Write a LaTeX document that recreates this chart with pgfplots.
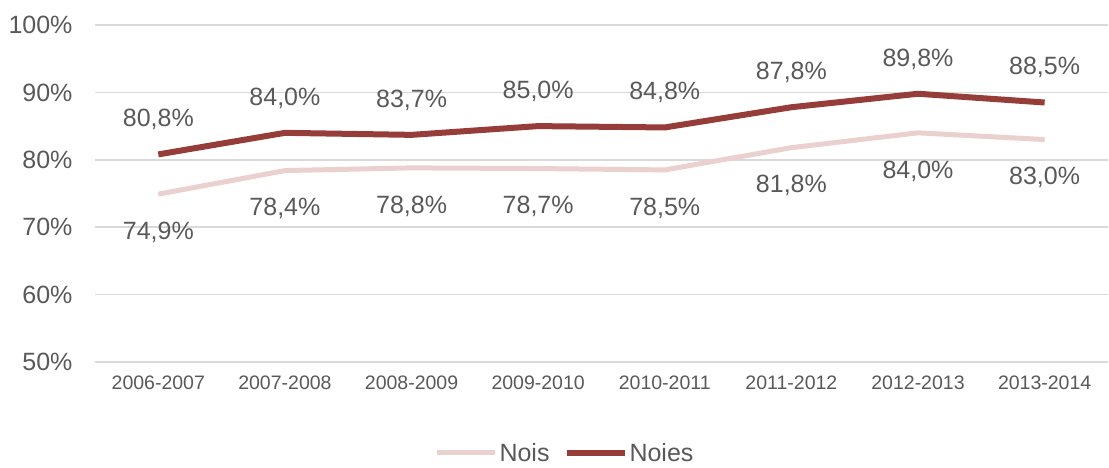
\documentclass[border=0pt]{standalone}
\usepackage{pgfplots}
\pgfplotsset{compat=1.18}
\usepackage{fontspec}
\setmainfont{Liberation Sans}
\definecolor{noies}{RGB}{150,60,57}
\definecolor{nois}{RGB}{235,208,208}
\definecolor{txt}{RGB}{89,89,89}
\definecolor{gridc}{RGB}{217,217,217}

\begin{document}
\begin{tikzpicture}
  \useasboundingbox (0,0) rectangle (1109bp,468bp);
  \begin{axis}[
    at={(95bp,106bp)}, anchor=south west,
    scale only axis, width=1013bp, height=337bp,
    xmin=-0.5, xmax=7.5, ymin=50, ymax=100,
    xtick={0,...,7},
    xticklabels={2006-2007,2007-2008,2008-2009,2009-2010,2010-2011,2011-2012,2012-2013,2013-2014},
    ytick={50,60,...,100},
    yticklabel={\pgfmathprintnumber{\tick}\%},
    /pgf/number format/assume math mode=true,
    axis line style={draw=none},
    major tick length=0pt,
    ymajorgrids=true, xmajorgrids=false,
    grid style={draw=gridc, line width=1.5bp},
    ticklabel style={text=txt},
    yticklabel style={font=\fontsize{25bp}{30bp}\selectfont, xshift=-19bp},
    xticklabel style={font=\fontsize{19.5bp}{24bp}\selectfont, yshift=-10bp},
    point meta=y,
    nodes near coords={\pgfmathprintnumber[fixed,fixed zerofill,precision=1,use comma]{\pgfplotspointmeta}\%},
    every node near coord/.append style={font=\fontsize{25bp}{30bp}\selectfont, text=txt},
    legend columns=2,
    legend style={at={(0.464,-0.27)}, anchor=center, draw=none, fill=none,
      font=\fontsize{25bp}{30bp}\selectfont, text=txt,
      /tikz/every even column/.append style={column sep=12bp}},
    legend image code/.code={\draw[#1] (0bp,0bp) -- (58bp,0bp);},
  ]
  \addplot[nois, line width=5bp, mark=none,
    every node near coord/.append style={anchor=north, yshift=-22bp}] coordinates {
    (0,74.9) (1,78.4) (2,78.8) (3,78.7) (4,78.5) (5,81.8) (6,84.0) (7,83.0)
  };
  \addlegendentry{Nois}
  \addplot[noies, line width=6bp, mark=none,
    every node near coord/.append style={anchor=south, yshift=18bp}] coordinates {
    (0,80.8) (1,84.0) (2,83.7) (3,85.0) (4,84.8) (5,87.8) (6,89.8) (7,88.5)
  };
  \addlegendentry{Noies}
  \end{axis}
\end{tikzpicture}
\end{document}
